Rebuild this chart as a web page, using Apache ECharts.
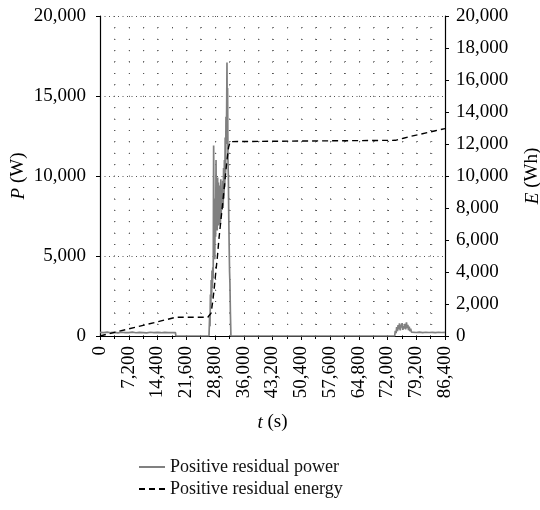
<!DOCTYPE html>
<html>
<head>
<meta charset="utf-8">
<script src="https://cdn.jsdelivr.net/npm/echarts@6/dist/echarts.min.js"></script>
<style>
  html, body { margin: 0; padding: 0; background: #ffffff; }
  #chart { width: 540px; height: 510px; }
</style>
</head>
<body>
<div id="chart"></div>
<script>
// Time axis (s) and tick labels
const timeTicks = [0, 7200, 14400, 21600, 28800, 36000, 43200, 50400, 57600, 64800, 72000, 79200, 86400];
const powerTicks = [0, 5000, 10000, 15000, 20000];
const energyTicks = [0, 2000, 4000, 6000, 8000, 10000, 12000, 14000, 16000, 18000, 20000];

// Positive residual power, P (W)
const powerTime = [
  0, 900, 1800, 2700, 3600, 4500, 5400, 6300, 7200, 8100, 9000, 9900, 10800, 11700, 12600,
  13500, 14400, 15300, 16200, 17100, 18000, 18900, 19000,
  27300, 27450, 27550, 27650, 27750, 27850, 27950, 28050, 28150, 28250, 28350, 28460,
  28550, 28650, 28750, 28850, 28950, 29060, 29150, 29250, 29350, 29460, 29560, 29650,
  29750, 29850, 29950, 30050, 30150, 30250, 30350, 30450, 30550, 30650, 30750, 30850,
  30950, 31050, 31150, 31250, 31350, 31450, 31550, 31650, 31750, 31800, 31880, 31950,
  32050, 32150, 32250, 32350, 32450, 32540, 32650, 32790,
  73800, 73950, 74150, 74300, 74500, 74650, 74850, 75000, 75200, 75350, 75500, 75650,
  75850, 76000, 76200, 76350, 76550, 76750, 76900, 77100, 77250, 77450, 77600, 77800,
  78000, 78200, 78400, 79200, 80000, 80800, 81600, 82400, 83200, 84000, 84800, 85600, 86400
];
const powerValues = [
  230, 210, 240, 205, 225, 200, 235, 215, 210, 240, 205, 230, 215, 200, 235,
  210, 225, 205, 230, 215, 220, 210, 0,
  0, 1200, 600, 2600, 1800, 3500, 2400, 4100, 3000, 4300, 3600, 11900,
  5300, 6800, 4800, 8600, 6200, 11000, 7400, 9200, 6600, 9900, 7100, 9600,
  6900, 8800, 7300, 9400, 7000, 9800, 7600, 9100, 7900, 8300, 9700, 8000,
  10500, 8600, 11000, 9300, 12400, 10200, 13700, 12000, 15200, 17100, 13000, 15500,
  11000, 9900, 7400, 5600, 4000, 3300, 1500, 0,
  0, 320, 180, 560, 300, 680, 420, 790, 350, 720, 520, 800,
  380, 640, 470, 760, 420, 850, 500, 700, 360, 580, 300, 460,
  240, 300, 230, 220, 240, 215, 235, 220, 230, 210, 235, 220, 225
];

// Positive residual energy, E (Wh)
const energyTime = [
  0, 3600, 7200, 10800, 14400, 18000, 19000, 27000, 27400, 27800, 28200, 28600, 29000,
  29400, 29800, 30200, 30600, 31000, 31400, 31800, 32200, 32600, 32800,
  74000, 76000, 78000, 80000, 82000, 84000, 86400
];
const energyValues = [
  0, 225, 445, 665, 885, 1110, 1170, 1170, 1250, 1420, 2100, 2950, 4000,
  4950, 6100, 7050, 8000, 9000, 10000, 11000, 11800, 12150, 12230,
  12230, 12360, 12490, 12600, 12710, 12830, 12960
];

const SERIF = '"Liberation Serif", "DejaVu Serif", serif';
const fmt = v => Number(v).toLocaleString('en-US');
const pair = (xs, ys) => xs.map((x, i) => [x, ys[i]]);

const dotsSparseV = { color: '#555', width: 1, type: [1, 10.4] };
const dotsSparseH = { color: '#555', width: 1, type: [1, 13.4] };
const dotsDense = { color: '#555', width: 1, type: [1, 3.5] };
const nameStyle = {
  fontFamily: SERIF, fontSize: 19, color: '#000',
  rich: { i: { fontStyle: 'italic', fontFamily: SERIF, fontSize: 19, color: '#000' } }
};

const chart = echarts.init(document.getElementById('chart'), null, { renderer: 'canvas' });
chart.setOption({
  animation: false,
  backgroundColor: '#ffffff',
  textStyle: { fontFamily: SERIF, color: '#000' },
  grid: { left: 100, right: 95, top: 16, bottom: 174, containLabel: false, outerBoundsMode: 'none' },
  legend: {
    orient: 'vertical',
    left: 133,
    top: 453,
    itemWidth: 26,
    itemHeight: 10,
    itemGap: 4,
    itemStyle: { opacity: 0 },
    textStyle: { fontFamily: SERIF, fontSize: 18, color: '#111' },
    data: ['Positive residual power', 'Positive residual energy']
  },
  xAxis: {
    type: 'value',
    min: timeTicks[0],
    max: timeTicks[timeTicks.length - 1],
    interval: timeTicks[1] - timeTicks[0],
    name: '{i|t} (s)',
    nameLocation: 'middle',
    nameGap: 77,
    nameMoveOverlap: false,
    nameTextStyle: nameStyle,
    axisLine: { show: true, lineStyle: { color: '#000', width: 1.2 } },
    axisTick: { show: true, inside: false, length: 4, lineStyle: { color: '#000' } },
    minorTick: { show: true, splitNumber: 2, length: 3, lineStyle: { color: '#000' } },
    axisLabel: { rotate: 90, margin: 10, fontFamily: SERIF, fontSize: 19, color: '#000', formatter: fmt },
    splitLine: { show: true, lineStyle: dotsSparseV },
    minorSplitLine: { show: true, lineStyle: dotsSparseV }
  },
  yAxis: [
    {
      type: 'value',
      min: powerTicks[0],
      max: powerTicks[powerTicks.length - 1],
      interval: powerTicks[1] - powerTicks[0],
      position: 'left',
      name: '{i|P} (W)',
      nameLocation: 'middle',
      nameRotate: 90,
      nameGap: 72,
      nameMoveOverlap: false,
      nameTextStyle: nameStyle,
      axisLine: { show: true, lineStyle: { color: '#000', width: 1.2 } },
      axisTick: { show: true, inside: false, length: 4, lineStyle: { color: '#000' } },
      minorTick: { show: false, splitNumber: 7 },
      axisLabel: { margin: 14, fontFamily: SERIF, fontSize: 19, color: '#000', formatter: fmt },
      splitLine: { show: true, lineStyle: dotsDense },
      minorSplitLine: { show: true, lineStyle: dotsSparseH }
    },
    {
      type: 'value',
      min: energyTicks[0],
      max: energyTicks[energyTicks.length - 1],
      interval: energyTicks[1] - energyTicks[0],
      position: 'right',
      name: '{i|E} (Wh)',
      nameLocation: 'middle',
      nameRotate: 90,
      nameGap: 78,
      nameMoveOverlap: false,
      nameTextStyle: nameStyle,
      axisLine: { show: true, lineStyle: { color: '#000', width: 1.2 } },
      axisTick: { show: true, inside: false, length: 4, lineStyle: { color: '#000' } },
      axisLabel: { margin: 11, fontFamily: SERIF, fontSize: 19, color: '#000', formatter: fmt },
      splitLine: { show: false }
    }
  ],
  series: [
    {
      name: 'Positive residual power',
      type: 'line',
      yAxisIndex: 0,
      symbol: 'none',
      data: pair(powerTime, powerValues),
      lineStyle: { color: '#808080', width: 1.7 },
      itemStyle: { color: '#808080' },
      z: 3
    },
    {
      name: 'Positive residual energy',
      type: 'line',
      yAxisIndex: 1,
      symbol: 'none',
      data: pair(energyTime, energyValues),
      lineStyle: { color: '#000', width: 1.4, type: [6, 4] },
      itemStyle: { color: '#000' },
      z: 4
    }
  ]
});
</script>
</body>
</html>
